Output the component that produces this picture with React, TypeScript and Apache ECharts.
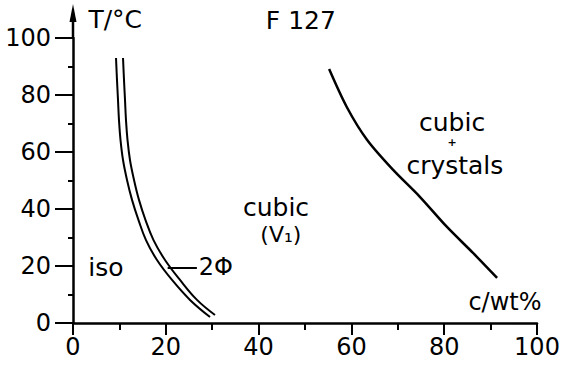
import React, { useEffect, useRef } from "react";
import * as echarts from "echarts";

// Phase boundary data (c in wt%, T in °C)
const isoBoundaryC = [9.27, 9.48, 9.7, 9.91, 10.24, 10.78, 11.64, 12.72, 14.12, 15.73, 18.1, 21.34, 25.22, 29.53];
const isoBoundaryT = [93.0, 85.3, 78.2, 71.2, 64.2, 57.2, 50.2, 43.2, 36.1, 29.1, 22.1, 15.1, 8.1, 2.1];
const cubicBoundaryC = [10.78, 10.99, 11.21, 11.42, 11.75, 12.28, 13.15, 14.22, 15.63, 17.35, 19.83, 23.06, 26.72, 30.6];
const cubicBoundaryT = [93.0, 85.3, 78.2, 71.2, 64.2, 57.2, 50.2, 43.2, 36.1, 29.1, 22.1, 15.1, 8.1, 2.8];
const crystalBoundaryC = [55.2, 59.0, 63.4, 69.0, 74.8, 80.6, 86.2, 91.4];
const crystalBoundaryT = [89.1, 75.8, 64.2, 53.7, 44.2, 33.7, 24.6, 15.8];
const leaderC = [20.4, 26.7];
const leaderT = [19.3, 19.3];

const xTicks = [0, 20, 40, 60, 80, 100];
const yTicks = [0, 20, 40, 60, 80, 100];

const labelTexts = ["cubic", "(V₁)", "2Φ", "iso", "cubic", "+", "crystals", "c/wt%", "T/°C", "F 127"];
const labelC = [43.75, 44.8, 30.8, 7.1, 81.7, 81.7, 82.3, 93.1, 9.1, 49.1];
const labelT = [40.4, 30.9, 19.6, 19.3, 70.5, 63.2, 55.1, 7.4, 106.6, 106.3];
const labelSizes = [25, 22, 24, 25, 25, 11, 25, 24, 25, 25];

const FONT = "DejaVu Sans";

function zip(xs: number[], ys: number[]) {
  return xs.map((x, i) => [x, ys[i]]);
}

export default function App() {
  const ref = useRef<HTMLDivElement>(null);
  useEffect(() => {
    if (!ref.current) return;
    document.body.style.margin = "0";
    const chart = echarts.init(ref.current, null, { renderer: "svg" });
    const lineStyleBase = { color: "#000", width: 2 };
    chart.setOption({
      animation: false,
      backgroundColor: "#fff",
      textStyle: { color: "#000", fontFamily: FONT },
      grid: { left: 73, right: 30, top: 38, bottom: 48, containLabel: false },
      xAxis: {
        type: "value",
        min: xTicks[0],
        max: xTicks[xTicks.length - 1],
        interval: 20,
        axisLine: { show: true, lineStyle: { color: "#000", width: 2.5 } },
        axisTick: { show: true, length: 12, lineStyle: { color: "#000", width: 2 } },
        minorTick: { show: true, splitNumber: 2, length: 7, lineStyle: { color: "#000", width: 2 } },
        splitLine: { show: false },
        axisLabel: { color: "#000", fontFamily: FONT, fontSize: 24, margin: 12 },
      },
      yAxis: {
        type: "value",
        min: yTicks[0],
        max: yTicks[yTicks.length - 1],
        interval: 20,
        axisLine: { show: true, onZero: false, lineStyle: { color: "#000", width: 2.5 } },
        axisTick: { show: true, length: 18, lineStyle: { color: "#000", width: 2 } },
        minorTick: { show: true, splitNumber: 2, length: 5, lineStyle: { color: "#000", width: 2 } },
        splitLine: { show: false },
        axisLabel: { color: "#000", fontFamily: FONT, fontSize: 24, margin: 22 },
      },
      series: [
        {
          type: "line",
          data: zip(isoBoundaryC, isoBoundaryT),
          smooth: 0.4,
          showSymbol: false,
          lineStyle: lineStyleBase,
        },
        {
          type: "line",
          data: zip(cubicBoundaryC, cubicBoundaryT),
          smooth: 0.4,
          showSymbol: false,
          lineStyle: lineStyleBase,
        },
        {
          type: "line",
          data: zip(crystalBoundaryC, crystalBoundaryT),
          smooth: 0.3,
          showSymbol: false,
          lineStyle: { color: "#000", width: 2.5 },
        },
        {
          type: "line",
          data: zip(leaderC, leaderT),
          showSymbol: false,
          lineStyle: { color: "#000", width: 2 },
        },
      ],
    });

    const origin = chart.convertToPixel({ gridIndex: 0 }, [0, 100]) as number[];
    const texts = labelTexts.map((t, i) => {
      const p = chart.convertToPixel({ gridIndex: 0 }, [labelC[i], labelT[i]]) as number[];
      return {
        type: "text",
        x: p[0],
        y: p[1],
        silent: true,
        style: {
          text: t,
          x: 0,
          y: 0,
          fill: "#000",
          fontSize: labelSizes[i],
          fontFamily: FONT,
          fontWeight: t === "+" ? "bold" : "normal",
          lineHeight: t === "+" ? 8 : labelSizes[i] - 2,
          align: "center",
          verticalAlign: "middle",
        },
      };
    });
    chart.setOption({
      graphic: [
        {
          type: "line",
          shape: { x1: origin[0], y1: origin[1], x2: origin[0], y2: origin[1] - 24 },
          style: { stroke: "#000", lineWidth: 2.5 },
        },
        {
          type: "polygon",
          shape: {
            points: [
              [origin[0], origin[1] - 34],
              [origin[0] - 3.5, origin[1] - 16],
              [origin[0] + 3.5, origin[1] - 16],
            ],
          },
          style: { fill: "#000" },
        },
        ...texts,
      ],
    });
    return () => chart.dispose();
  }, []);
  return <div ref={ref} style={{ position: "absolute", left: 0, top: 0, width: 567, height: 371 }} />;
}
